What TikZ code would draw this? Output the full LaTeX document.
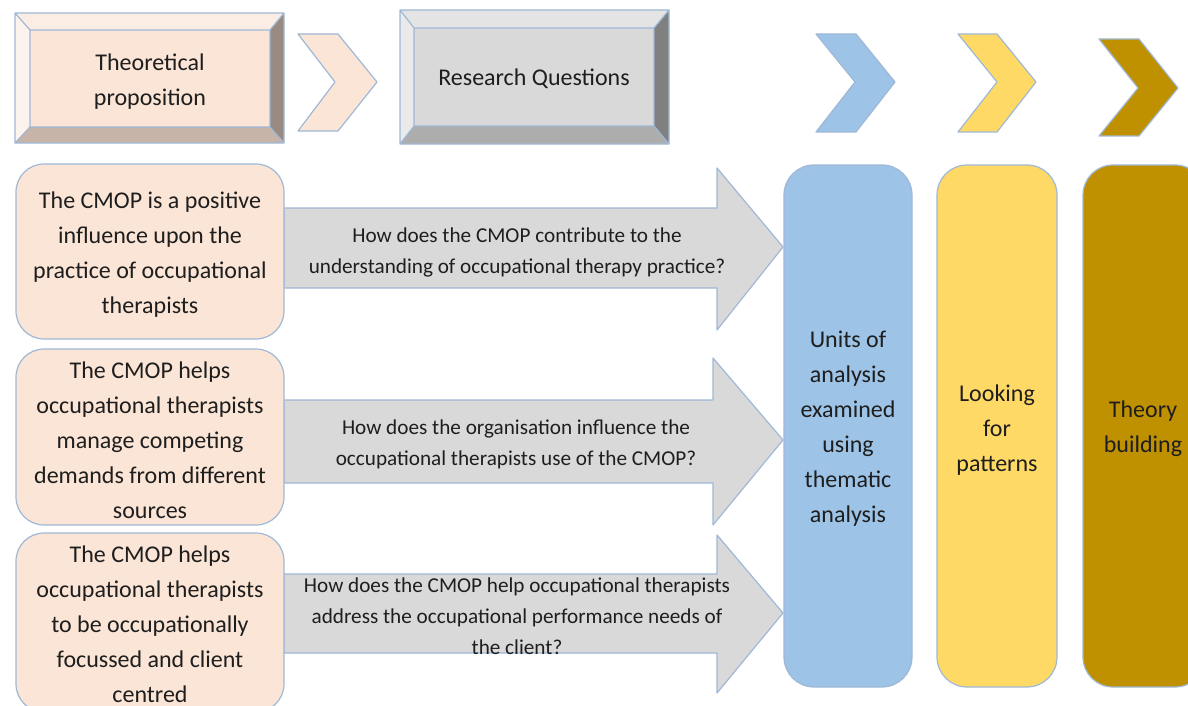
\documentclass[tikz,border=0pt]{standalone}
\usepackage{fontspec}
\setmainfont{Carlito}
\begin{document}
\definecolor{peach}{HTML}{FBE5D6}
\definecolor{peachtop}{HTML}{FCEDE4}
\definecolor{peachleft}{HTML}{FDF3EE}
\definecolor{peachright}{HTML}{998B82}
\definecolor{peachbottom}{HTML}{C6B4A8}
\definecolor{greyface}{HTML}{D9D9D9}
\definecolor{greytop}{HTML}{E4E4E4}
\definecolor{greyleft}{HTML}{EAEAEA}
\definecolor{greyright}{HTML}{808080}
\definecolor{greybottom}{HTML}{ADADAD}
\definecolor{edge}{HTML}{9FB8D6}
\definecolor{skyblue}{HTML}{9DC3E6}
\definecolor{sun}{HTML}{FFD966}
\definecolor{ochre}{HTML}{BF9000}
\definecolor{ink}{HTML}{1E1E1E}
\begin{tikzpicture}[x=0.5pt,y=-0.5pt,
  outline/.style={draw=edge,line width=0.6pt,line join=round},
  softbox/.style={outline,rounded corners=14pt},
  blockarrow/.style={outline,fill=greyface},
  boxtext/.style={text=ink,align=center,inner sep=0pt,font=\fontsize{12}{17.5}\selectfont},
  arrowtext/.style={text=ink,align=center,inner sep=0pt,font=\fontsize{10.6}{15.5}\selectfont}]
\useasboundingbox (0,0) rectangle (1188,706);
\clip (0,0) rectangle (1188,706);

% bevelled header: Theoretical proposition
\fill[peachtop] (15,13) -- (284,13) -- (270,30) -- (30,30) -- cycle;
\fill[peachleft] (15,13) -- (30,30) -- (30,127) -- (15,143) -- cycle;
\fill[peachright] (284,13) -- (284,143) -- (270,127) -- (270,30) -- cycle;
\fill[peachbottom] (15,143) -- (284,143) -- (270,127) -- (30,127) -- cycle;
\fill[peach] (30,30) rectangle (270,127);
\draw[outline] (15,13) rectangle (284,143) (30,30) rectangle (270,127)
  (15,13) -- (30,30) (284,13) -- (270,30) (284,143) -- (270,127) (15,143) -- (30,127);
\node[boxtext] (theory) at (150,82) {Theoretical\\proposition};

% chevron after the first header
\draw[outline,fill=peach] (298,34) -- (338,34) -- (377,82) -- (338,131) -- (298,131) -- (335,82) -- cycle;

% bevelled header: Research Questions
\fill[greytop] (400,10) -- (669,10) -- (654,28) -- (414,28) -- cycle;
\fill[greyleft] (400,10) -- (414,28) -- (414,126) -- (400,144) -- cycle;
\fill[greyright] (669,10) -- (669,144) -- (654,126) -- (654,28) -- cycle;
\fill[greybottom] (400,144) -- (669,144) -- (654,126) -- (414,126) -- cycle;
\fill[greyface] (414,28) rectangle (654,126);
\draw[outline] (400,10) rectangle (669,144) (414,28) rectangle (654,126)
  (400,10) -- (414,28) (669,10) -- (654,28) (669,144) -- (654,126) (400,144) -- (414,126);
\node[boxtext] (questions) at (534,79) {Research Questions};

% chevrons above the analysis columns
\draw[outline,fill=skyblue] (816,34) -- (856,34) -- (895,82) -- (856,132) -- (816,132) -- (855,82) -- cycle;
\draw[outline,fill=sun] (958,34) -- (997,34) -- (1036,82) -- (997,132) -- (958,132) -- (997,82) -- cycle;
\draw[outline,fill=ochre] (1099,39) -- (1139,39) -- (1178,88) -- (1139,136) -- (1099,136) -- (1138,88) -- cycle;

% block arrows from propositions to the analysis
\draw[blockarrow] (284,208) -- (717,208) -- (717,168) -- (783,247) -- (717,330) -- (717,288) -- (284,288) -- cycle;
\draw[blockarrow] (284,400) -- (713,400) -- (713,358) -- (783,440) -- (713,525) -- (713,483) -- (284,483) -- cycle;
\draw[blockarrow] (284,574) -- (717,574) -- (717,535) -- (783,613) -- (717,693) -- (717,653) -- (284,653) -- cycle;

% propositions
\draw[softbox,fill=peach] (16,164) rectangle (284,339);
\draw[softbox,fill=peach] (16,349) rectangle (284,525);
\draw[softbox,fill=peach] (16,533) rectangle (284,712);
\node[boxtext] (prop1) at (150,255) {The CMOP is a positive\\influence upon the\\practice of occupational\\therapists};
\node[boxtext] (prop2) at (150,440) {The CMOP helps\\occupational therapists\\manage competing\\demands from different\\sources};
\node[boxtext] (prop3) at (150,624) {The CMOP helps\\occupational therapists\\to be occupationally\\focussed and client\\centred};

% research questions on the arrows
\node[arrowtext] (q1) at (517,252) {How does the CMOP contribute to the\\understanding of occupational therapy practice?};
\node[arrowtext] (q2) at (516,444) {How does the organisation influence the\\occupational therapists use of the CMOP?};
\node[arrowtext] (q3) at (517,616) {How does the CMOP help occupational therapists\\address the occupational performance needs of\\the client?};

% analysis columns
\draw[softbox,rounded corners=15pt,fill=skyblue] (784,165) rectangle (912,687);
\draw[softbox,rounded corners=15pt,fill=sun] (937,165) rectangle (1057,687);
\draw[softbox,rounded corners=15pt,fill=ochre] (1083,165) rectangle (1205,687);
\node[boxtext] (units) at (848,429) {Units of\\analysis\\examined\\using\\thematic\\analysis};
\node[boxtext] (patterns) at (997,430) {Looking\\for\\patterns};
\node[boxtext] (building) at (1143,429) {Theory\\building};
\end{tikzpicture}
\end{document}
